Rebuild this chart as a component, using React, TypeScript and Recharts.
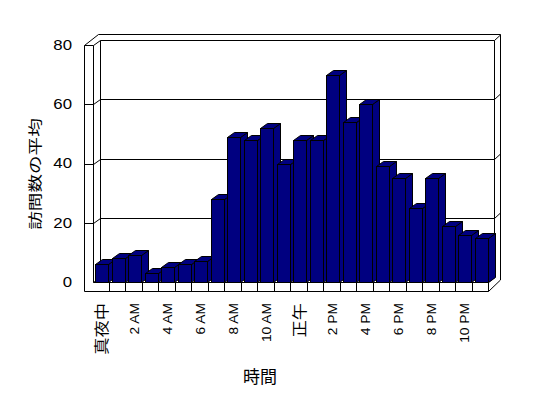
import { BarChart, Bar, XAxis, YAxis, CartesianGrid, Customized } from "recharts";

const hours = [
  "真夜中", "1 AM", "2 AM", "3 AM", "4 AM", "5 AM", "6 AM", "7 AM", "8 AM", "9 AM", "10 AM", "11 AM",
  "正午", "1 PM", "2 PM", "3 PM", "4 PM", "5 PM", "6 PM", "7 PM", "8 PM", "9 PM", "10 PM", "11 PM",
];
const visits = [6, 8, 9, 3, 5, 6, 7, 28, 49, 48, 52, 40, 48, 48, 70, 54, 60, 39, 35, 25, 35, 19, 16, 15];
const yTicks = [0, 20, 40, 60, 80];
const xTitle = "時間";
const yTitle = "訪問数の平均";

const data = hours.map((hour, i) => ({ hour, visits: visits[i] }));

// layout (chart coordinates)
const W = 532;
const H = 382;
const PT = 37;
const PB = 274;
const PR = 480;
const BAND = 396 / 24;
const WO = 76.5; // left wall, outer
const WI = 85.5; // left wall, inner
const BL = 92.5; // back wall left
const BR = 486.5; // back wall right
const OR = 492.5; // back wall outer right
const FB = 283.5; // floor bottom
const FONT = "'Liberation Sans', 'Noto Sans CJK JP', sans-serif";
const NAVY = "#000080";

const Frame = () => (
  <g fill="none" stroke="#000" strokeWidth={1}>
    <path d={`M${WO},${FB} V${PT + 0.5} L${BL - 2},26.5 H${OR} V272 L${PR + 0.5},${FB} Z`} />
    <path d={`M${WI},${PT + 0.5} V${PB + 0.5} H${PR + 0.5} V${FB}`} />
    <path d={`M${PR + 0.5},${PB + 0.5} L${BR},${PB - 4.5}`} />
    <path d={`M${BL},${PT - 4.5} V${PB - 4.5}`} />
    <path d={`M${BR},${PT - 4.5} V${PB - 4.5}`} />
    <text x={252} y={367} textAnchor="middle" dominantBaseline="central" fontSize={17}
      fontFamily="'Noto Sans CJK JP', sans-serif" fill="#000" stroke="none">{xTitle}</text>
    <text transform="translate(26,166) rotate(-90) scale(1.33,1)" textAnchor="middle" dominantBaseline="central"
      fontSize={14} fontFamily="'Noto Sans CJK JP', sans-serif" fill="#000" stroke="none">{yTitle}</text>
  </g>
);

const GridLine = (props: any) => {
  const y = Math.round(props.y1) + 0.5;
  const atFloor = Math.abs(props.y1 - PB) < 1;
  const d = atFloor
    ? `M${WI},${y} L${BL},${y - 5} H${BR}`
    : `M${WO},${y} H${WI} L${BL},${y - 5} H${BR} L${OR},${y - 10.5}`;
  return <path key={props.key} d={d} fill="none" stroke="#000" strokeWidth={1} />;
};

const Box = (props: any) => {
  const { x, y, width, height } = props;
  const l = Math.round(x + 1.3) + 0.5;
  const r = Math.round(x + 1.3 + width) + 0.5;
  const t = Math.round(y) + 0.5;
  const b = Math.round(y + height) + 0.5;
  const dx = 7;
  const dy = 5;
  return (
    <g fill={NAVY} stroke="#000" strokeWidth={1}>
      <path d={`M${r},${t} L${r + dx},${t - dy} V${b - dy} L${r},${b} Z`} />
      <path d={`M${l},${t} L${l + dx},${t - dy} H${r + dx} L${r},${t} Z`} />
      <rect x={l} y={t} width={r - l} height={b - t} />
    </g>
  );
};

const HourTick = (props: any) => {
  const { x, payload } = props;
  const i = hours.indexOf(payload.value);
  const cjk = /[^\x00-\x7f]/.test(payload.value);
  const dv = Math.round(x + BAND / 2) + 0.5;
  return (
    <g>
      {i < hours.length - 1 && <line x1={dv} y1={PB + 0.5} x2={dv} y2={FB} stroke="#000" strokeWidth={1} />}
      {i % 2 === 0 && (
        <text
          transform={`translate(${x + 1.5},${PB + 21}) rotate(-90) scale(1.15,1)`}
          textAnchor="end"
          dominantBaseline="central"
          fontSize={cjk ? 15 : 12}
          fontFamily={FONT}
          fill="#000"
        >
          {payload.value}
        </text>
      )}
    </g>
  );
};

const ValueTick = (props: any) => (
  <text
    transform={`translate(64,${props.y}) scale(1.2,1)`}
    textAnchor="end"
    dominantBaseline="central"
    fontSize={14}
    fontFamily={FONT}
    fill="#000"
  >
    {props.payload.value}
  </text>
);

export default function App() {
  return (
    <div style={{ width: W, height: H }}>
      <BarChart width={W} height={H} data={data} margin={{ top: PT, right: 52, bottom: 0, left: 0 }}>
        <Customized component={Frame} />
        <CartesianGrid vertical={false} horizontal={GridLine} />
        <XAxis dataKey="hour" interval={0} height={108} axisLine={false} tickLine={false} tick={HourTick} />
        <YAxis
          domain={[0, 80]}
          ticks={yTicks}
          width={84}
          axisLine={false}
          tickLine={false}
          tick={ValueTick}
        />
        <Bar dataKey="visits" barSize={13} shape={Box} isAnimationActive={false} />
      </BarChart>
    </div>
  );
}
